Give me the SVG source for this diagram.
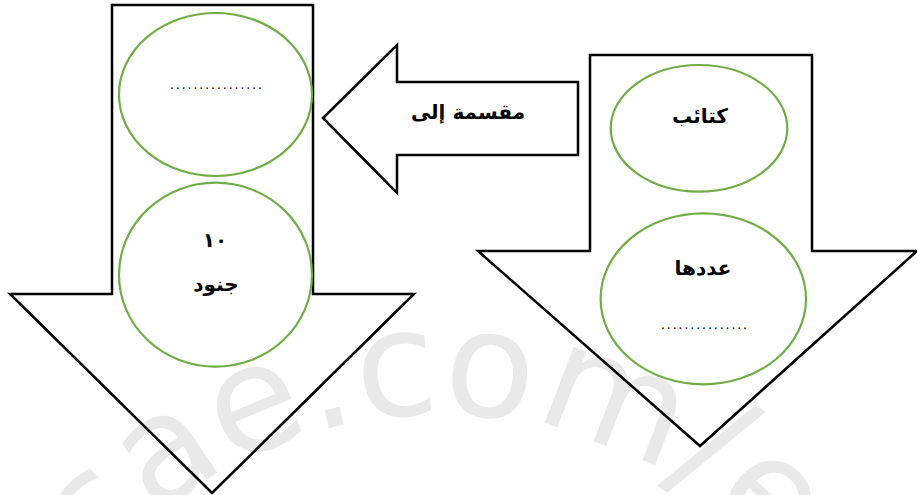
<svg xmlns="http://www.w3.org/2000/svg" xmlns:xlink="http://www.w3.org/1999/xlink" width="917" height="495" viewBox="0 0 917 495">
<style>
.arrow{fill:none;stroke:#000;stroke-width:2.5;stroke-linejoin:miter}
.oval{fill:none;stroke:#70AD47;stroke-width:2.2}
.lbl{font-family:"DejaVu Sans","Noto Sans",sans-serif;font-weight:bold;font-size:20px;fill:#000;text-anchor:middle}
.dots{font-family:"Liberation Sans",sans-serif;font-size:14px;fill:#000}
.wm{font-family:"DejaVu Sans",sans-serif;font-size:148px;fill:#e9e9e9}
</style>
<defs>
<path id="wmArc" d="M -5 859 A 445 445 0 0 1 885 859"/>
</defs>
<rect width="917" height="495" fill="#fff"/>
<text class="wm"><textPath xlink:href="#wmArc" href="#wmArc" startOffset="312">sae.com/e</textPath></text>
<g id="connectors">
<path id="arrow-left-down" class="arrow" d="M112 5 H313 V294 H414 L212 493 L10 294 H112 Z"/>
<path id="arrow-right-down" class="arrow" d="M590 55 H812 V251 H917 L700 446 L478 251 H590 Z"/>
<path id="arrow-middle-left" class="arrow" d="M578 82 V155 H397 V193 L323 118 L397 45 V82 Z"/>
</g>
<g id="node-divided">
<text class="lbl" x="468" y="119" font-size="21">مقسمة إلى</text>
</g>
<g id="node-empty-top">
<ellipse class="oval" cx="215.5" cy="94.5" rx="96.5" ry="81.5"/>
<text class="dots" x="170" y="89" textLength="92" lengthAdjust="spacing">................</text>
</g>
<g id="node-soldiers">
<ellipse class="oval" cx="215.5" cy="274.7" rx="96.5" ry="92"/>
<text class="lbl" x="215" y="247">١٠</text>
<text class="lbl" x="216" y="291" font-size="21">جنود</text>
</g>
<g id="node-battalions">
<ellipse class="oval" cx="699" cy="128.3" rx="88.3" ry="63.3"/>
<text class="lbl" x="700" y="123">كتائب</text>
</g>
<g id="node-count">
<ellipse class="oval" cx="703.3" cy="298.8" rx="102.7" ry="85.5"/>
<text class="lbl" x="703" y="275">عددها</text>
<text class="dots" x="661" y="329" textLength="86" lengthAdjust="spacing">...............</text>
</g>
</svg>
